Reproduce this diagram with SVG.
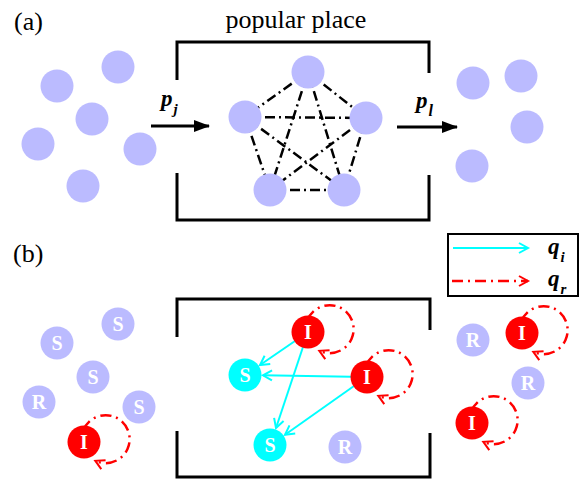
<svg xmlns="http://www.w3.org/2000/svg" width="584" height="479" viewBox="0 0 584 479">
<style>
.lav{fill:#BBBBFF}
.red{fill:#FF0000}
.cyn{fill:#00FFFF}
.lbl{font-family:'Liberation Serif','DejaVu Serif',serif;font-weight:bold;font-size:20px;fill:#fff;text-anchor:middle}
.txt{font-family:'Liberation Serif','DejaVu Serif',serif;font-size:26px;fill:#000}
.math{font-family:'Liberation Serif','DejaVu Serif',serif;font-weight:bold;font-style:italic;fill:#000}
.edge{stroke:#000;stroke-width:2.5;stroke-dasharray:10 4 2 4;fill:none}
.loop{stroke:#FF0000;stroke-width:2.5;stroke-dasharray:11 5 2 5;fill:none;marker-end:url(#rd)}
.inf{stroke:#00FFFF;stroke-width:2;fill:none;marker-end:url(#cy)}
.box{fill:none;stroke:#000;stroke-width:3}
.flow{stroke:#000;stroke-width:3;fill:none;marker-end:url(#blk)}
</style>
<defs>
<marker id="blk" markerWidth="16" markerHeight="12" refX="15" refY="6" orient="auto" markerUnits="userSpaceOnUse" overflow="visible"><path d="M0,0 L16,6 L0,12 Z" fill="#000"/></marker>
<marker id="cy" markerWidth="12" markerHeight="12" refX="10" refY="6" orient="auto" markerUnits="userSpaceOnUse" overflow="visible"><path d="M1,1 L10,6 L1,11" fill="none" stroke="#00FFFF" stroke-width="2"/></marker>
<marker id="rd" markerWidth="12" markerHeight="12" refX="10" refY="6" orient="auto" markerUnits="userSpaceOnUse" overflow="visible"><path d="M1,1 L10,6 L1,11" fill="none" stroke="#FF0000" stroke-width="2"/></marker>
</defs>

<!-- labels -->
<text class="txt" x="14" y="30" font-family="Liberation Serif, DejaVu Serif, serif">(a)</text>
<text class="txt" x="296" y="28" text-anchor="middle" font-family="Liberation Serif, DejaVu Serif, serif">popular place</text>
<text class="txt" x="13" y="262" font-family="Liberation Serif, DejaVu Serif, serif">(b)</text>

<!-- boxes -->
<g id="box-a">
<path class="box" d="M177,80 V42 H429 V73"/>
<path class="box" d="M177,173 V220 H429 V175"/>
</g>
<g id="box-b">
<path class="box" d="M177,337 V299 H430 V330"/>
<path class="box" d="M177,431 V477 H430 V433"/>
</g>

<g id="connectors">
<!-- flows -->
<line class="flow" x1="151" y1="126" x2="209" y2="126"/>
<line class="flow" x1="397" y1="127" x2="457" y2="127"/>
<!-- pentagon edges -->
<line class="edge" x1="308" y1="72" x2="245" y2="117"/>
<line class="edge" x1="308" y1="72" x2="366" y2="118"/>
<line class="edge" x1="308" y1="72" x2="270" y2="190"/>
<line class="edge" x1="308" y1="72" x2="344" y2="190"/>
<line class="edge" x1="245" y1="117" x2="366" y2="118"/>
<line class="edge" x1="245" y1="117" x2="270" y2="190"/>
<line class="edge" x1="245" y1="117" x2="344" y2="190"/>
<line class="edge" x1="366" y1="118" x2="270" y2="190"/>
<line class="edge" x1="366" y1="118" x2="344" y2="190"/>
<line class="edge" x1="270" y1="190" x2="344" y2="190"/>
<!-- infection arrows -->
<line class="inf" x1="295" y1="341" x2="260" y2="365"/>
<line class="inf" x1="303" y1="347" x2="276" y2="428"/>
<line class="inf" x1="351" y1="376.7" x2="263" y2="375.3"/>
<line class="inf" x1="354" y1="386" x2="285" y2="434.7"/>
<!-- recovery loops -->
<path class="loop" d="M83.4,430.1 A24,24 0 1 1 95.3,460.8"/>
<path class="loop" d="M307.4,320.1 A24,24 0 1 1 319.3,350.8"/>
<path class="loop" d="M366.4,365.1 A24,24 0 1 1 378.3,395.8"/>
<path class="loop" d="M521.4,321.1 A24,24 0 1 1 533.3,351.8"/>
<path class="loop" d="M471.4,411.1 A24,24 0 1 1 483.3,441.8"/>
</g>

<!-- flow labels -->
<text class="math" x="161" y="106" font-size="23" font-family="Liberation Serif, DejaVu Serif, serif">p<tspan font-size="15" dy="8" dx="1">j</tspan></text>
<text class="math" x="416" y="108" font-size="23" font-family="Liberation Serif, DejaVu Serif, serif">p<tspan font-size="16" dy="8" dx="1">l</tspan></text>

<!-- (a) left group -->
<g id="a-l1"><circle class="lav" cx="57" cy="86" r="16.5"/></g>
<g id="a-l2"><circle class="lav" cx="118" cy="67" r="16.5"/></g>
<g id="a-l3"><circle class="lav" cx="92" cy="119" r="16.5"/></g>
<g id="a-l4"><circle class="lav" cx="38" cy="144" r="16.5"/></g>
<g id="a-l5"><circle class="lav" cx="140" cy="149" r="16.5"/></g>
<g id="a-l6"><circle class="lav" cx="83" cy="186" r="16.5"/></g>
<!-- (a) pentagon -->
<g id="a-p1"><circle class="lav" cx="308" cy="72" r="16.5"/></g>
<g id="a-p2"><circle class="lav" cx="245" cy="117" r="16.5"/></g>
<g id="a-p3"><circle class="lav" cx="366" cy="118" r="16.5"/></g>
<g id="a-p4"><circle class="lav" cx="270" cy="190" r="16.5"/></g>
<g id="a-p5"><circle class="lav" cx="344" cy="190" r="16.5"/></g>
<!-- (a) right group -->
<g id="a-r1"><circle class="lav" cx="473" cy="83" r="16.5"/></g>
<g id="a-r2"><circle class="lav" cx="521" cy="76" r="16.5"/></g>
<g id="a-r3"><circle class="lav" cx="527" cy="127" r="16.5"/></g>
<g id="a-r4"><circle class="lav" cx="472" cy="166" r="16.5"/></g>

<!-- (b) left group -->
<g id="b-l1"><circle class="lav" cx="57" cy="343" r="16.5"/><text class="lbl" x="57" y="350">S</text></g>
<g id="b-l2"><circle class="lav" cx="118" cy="324" r="16.5"/><text class="lbl" x="118" y="331">S</text></g>
<g id="b-l3"><circle class="lav" cx="93" cy="377" r="16.5"/><text class="lbl" x="93" y="384">S</text></g>
<g id="b-l4"><circle class="lav" cx="39" cy="402" r="16.5"/><text class="lbl" x="39" y="409">R</text></g>
<g id="b-l5"><circle class="lav" cx="139" cy="407" r="16.5"/><text class="lbl" x="139" y="414">S</text></g>
<g id="b-l6"><circle class="red" cx="84" cy="442" r="16.5"/><text class="lbl" x="84" y="449">I</text></g>
<!-- (b) middle -->
<g id="b-m1"><circle class="red" cx="308" cy="332" r="16.5"/><text class="lbl" x="308" y="339">I</text></g>
<g id="b-m2"><circle class="red" cx="367" cy="377" r="16.5"/><text class="lbl" x="367" y="384">I</text></g>
<g id="b-m3"><circle class="cyn" cx="245" cy="375" r="16.5"/><text class="lbl" x="245" y="382">S</text></g>
<g id="b-m4"><circle class="cyn" cx="270" cy="445" r="16.5"/><text class="lbl" x="270" y="452">S</text></g>
<g id="b-m5"><circle class="lav" cx="345" cy="447" r="16.5"/><text class="lbl" x="345" y="454">R</text></g>
<!-- (b) right group -->
<g id="b-r1"><circle class="lav" cx="473" cy="340" r="16.5"/><text class="lbl" x="473" y="347">R</text></g>
<g id="b-r2"><circle class="red" cx="522" cy="333" r="16.5"/><text class="lbl" x="522" y="340">I</text></g>
<g id="b-r3"><circle class="lav" cx="528" cy="383" r="16.5"/><text class="lbl" x="528" y="390">R</text></g>
<g id="b-r4"><circle class="red" cx="472" cy="423" r="16.5"/><text class="lbl" x="472" y="430">I</text></g>

<!-- legend -->
<g id="legend">
<rect x="448" y="234" width="130" height="62" fill="#fff" stroke="#000" stroke-width="2"/>
<line class="inf" x1="453" y1="248" x2="528" y2="248"/>
<line class="loop" x1="452" y1="281" x2="528" y2="281"/>
<text class="math" x="548" y="254" font-size="23" font-family="Liberation Serif, DejaVu Serif, serif">q<tspan font-size="15" dy="8" dx="1">i</tspan></text>
<text class="math" x="548" y="286" font-size="23" font-family="Liberation Serif, DejaVu Serif, serif">q<tspan font-size="15" dy="8" dx="1">r</tspan></text>
</g>
</svg>
